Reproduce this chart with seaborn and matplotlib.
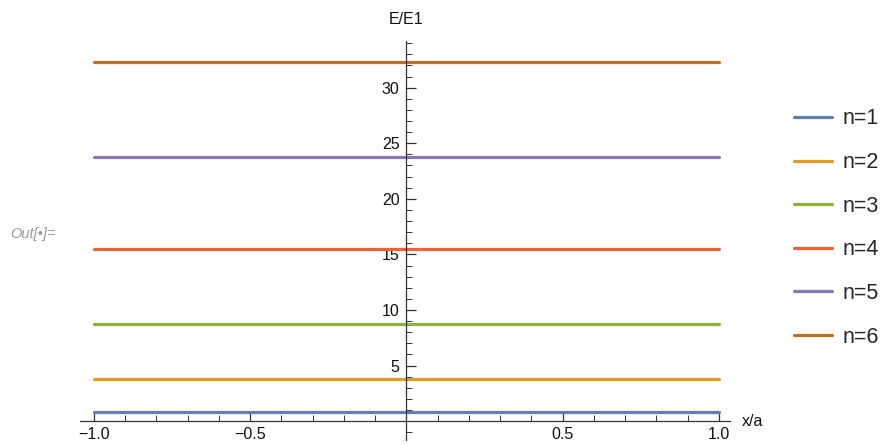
import matplotlib
matplotlib.use("Agg")
import matplotlib.pyplot as plt
from matplotlib.ticker import MultipleLocator, FixedLocator
from matplotlib.lines import Line2D
import seaborn as sns
import pandas as pd

# Energy levels E_n / E_1 drawn as horizontal lines across the well
levels = ["n=1", "n=2", "n=3", "n=4", "n=5", "n=6"]
energies = [0.8, 3.8, 8.7, 15.5, 23.8, 32.3]
x_span = [-1.0, 1.0]
colors = ["#5E81B5", "#E19C24", "#8FB032", "#EB6235", "#8778B3", "#C56E1A"]
y_ticks = [5, 10, 15, 20, 25, 30]
x_ticks = [-1.0, -0.5, 0.5, 1.0]
x_tick_labels = ["\u22121.0", "\u22120.5", "0.5", "1.0"]

sns.set_style("white")
plt.rcParams["font.family"] = ["Liberation Sans", "DejaVu Sans"]

rows = []
for lab, e in zip(levels, energies):
    for xv in x_span:
        rows.append({"x": xv, "E": e, "level": lab})
df = pd.DataFrame(rows)

fig = plt.figure(figsize=(8.87, 4.45), dpi=100)
ax = fig.add_axes([80 / 887, 5 / 445, 650 / 887, 399 / 445])

sns.lineplot(data=df, x="x", y="E", hue="level", palette=colors,
             linewidth=2.3, ax=ax, legend=False, estimator=None)

ax.set_xlim(-1.0448, 1.0352)
ax.set_ylim(-1.7, 34.2)

for s in ["top", "right"]:
    ax.spines[s].set_visible(False)
ax.spines["left"].set_position(("data", 0))
ax.spines["bottom"].set_position(("data", 0))
for s in ["left", "bottom"]:
    ax.spines[s].set_color("#333333")
    ax.spines[s].set_linewidth(0.9)

ax.xaxis.set_major_locator(FixedLocator(x_ticks))
ax.set_xticklabels(x_tick_labels)
ax.xaxis.set_minor_locator(MultipleLocator(0.1))
ax.yaxis.set_major_locator(FixedLocator(y_ticks))
ax.yaxis.set_minor_locator(MultipleLocator(1))

ax.tick_params(axis="both", which="both", left=True, bottom=True)
ax.tick_params(axis="both", which="major", direction="in", length=7,
               width=0.9, color="#333333", labelsize=11.5, labelcolor="#111111")
ax.tick_params(axis="both", which="minor", direction="in", length=4,
               width=0.7, color="#333333")
ax.tick_params(axis="x", which="major", pad=4)
ax.tick_params(axis="y", which="major", pad=5)

ax.set_xlabel("")
ax.set_ylabel("")
fig.text(406 / 887, 1 - 20 / 445, "E/E1", ha="center", va="center",
         fontsize=11.5, color="#111111")
fig.text(742 / 887, 1 - 422 / 445, "x/a", ha="left", va="center",
         fontsize=11.5, color="#111111")
fig.text(10 / 887, 1 - 234 / 445, "Out[\u2022]=", ha="left", va="center",
         fontsize=10.5, color="#999999", style="italic")

handles = [Line2D([0], [0], color=c, lw=2.3) for c in colors]
fig.legend(handles, levels, loc="center left",
           bbox_to_anchor=(775 / 887, 1 - 228 / 445), frameon=False,
           fontsize=15.5, handlelength=1.75, handletextpad=0.5,
           labelspacing=1.05)

fig.savefig("out.png", dpi=100)
